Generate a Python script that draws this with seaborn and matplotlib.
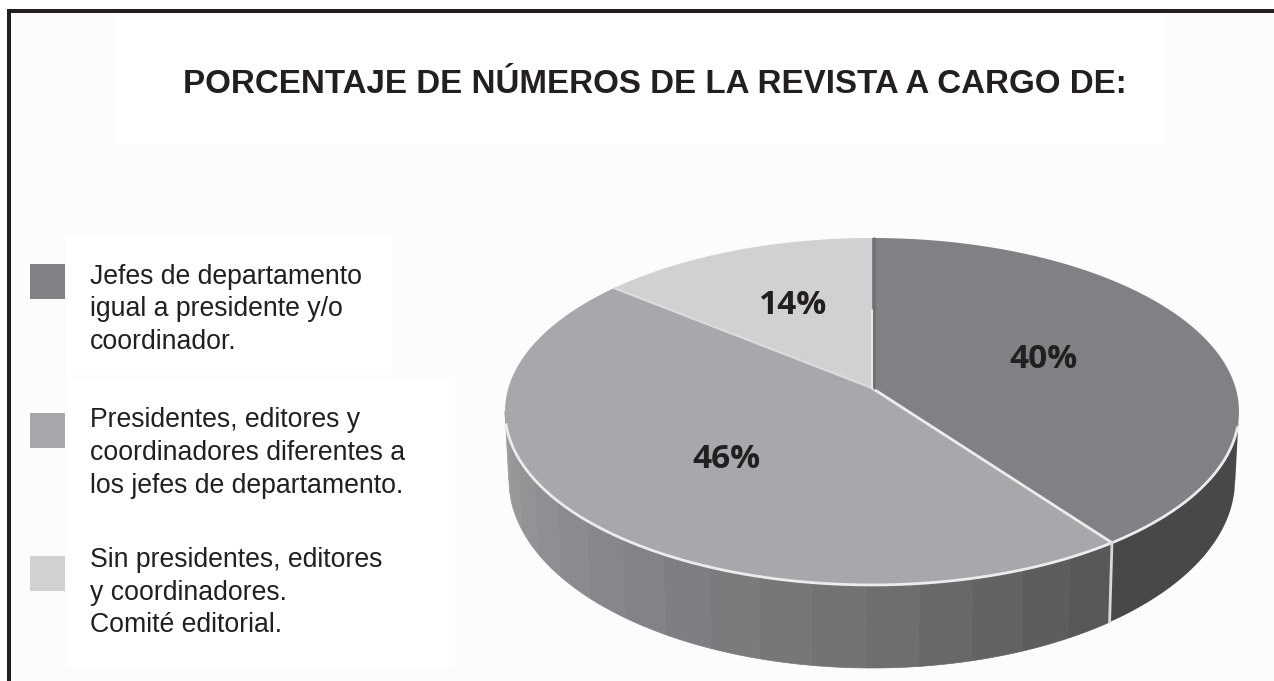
import numpy as np
import seaborn as sns
import matplotlib.pyplot as plt
from matplotlib.patches import Rectangle

# ----- Data -----
title = "PORCENTAJE DE NÚMEROS DE LA REVISTA A CARGO DE:"
shares = [40, 46, 14]
pct_labels = ["40%", "46%", "14%"]
legend_labels = [
    "Jefes de departamento\nigual a presidente y/o\ncoordinador.",
    "Presidentes, editores y\ncoordinadores diferentes a\nlos jefes de departamento.",
    "Sin presidentes, editores\ny coordinadores.\nComité editorial.",
]
top_colors = ["#808184", "#a7a8ab", "#d0d1d3"]

sns.set_theme(style="white")
plt.rcParams['font.family'] = ['Liberation Sans', 'DejaVu Sans']

# ----- Canvas in pixel units, y going down -----
fig, ax = plt.subplots(figsize=(12.74, 6.81), dpi=100)
fig.subplots_adjust(0, 0, 1, 1)
ax.set_xlim(0, 1274)
ax.set_ylim(681, 0)
ax.axis('off')
fig.patch.set_facecolor('#fcfcfc')

# white patches behind the texts
for x, y, w, h in [(115, 15, 1050, 130), (66, 235, 326, 140), (67, 378, 388, 289)]:
    ax.add_patch(Rectangle((x, y), w, h, color='white', lw=0, zorder=0))

# frame: top and left only
ink = '#231f20'
ax.add_patch(Rectangle((0, 0), 1274, 9, color='white', lw=0, zorder=1))
ax.add_patch(Rectangle((0, 0), 7, 681, color='white', lw=0, zorder=1))
ax.add_patch(Rectangle((7, 9), 1267, 4, color=ink, lw=0, zorder=2))
ax.add_patch(Rectangle((7, 9), 4, 672, color=ink, lw=0, zorder=2))

# ----- Pie in perspective (angles clockwise from the top) -----
cx, cy = 872, 388
rx, a, k = 363.6, 170.3, 0.1353


def rim(theta):
    t = np.radians(theta)
    d = 1 + k * np.cos(t)
    return cx + rx * np.sin(t) / d, cy - a * np.cos(t) / d


def base(theta):
    x, _ = rim(theta)
    x = cx + (x - cx) * 0.99
    return x, 480 + 188 * np.sqrt(np.clip(1 - ((x - cx) / 363) ** 2, 0, 1))


edges = np.cumsum([0] + shares) * 3.6

# side wall: dark part of the first slice, then bands along the second one
side_start, side_end = 97.8, 262.2
th = np.linspace(side_start, edges[1], 40)
xr, yr = rim(th)
xb, yb = base(th)
ax.fill(np.r_[xr, xb[::-1]], np.r_[yr, yb[::-1]], color='#47484a', lw=0, zorder=3)

n_bands = 16
band_colors = sns.blend_palette(['#58585a', '#737375', '#86878a', '#9a9b9d'], n_bands)
band_edges = np.linspace(edges[1], side_end, n_bands + 1)
for i in range(n_bands):
    th = np.linspace(band_edges[i], band_edges[i + 1], 12)
    xr, yr = rim(th)
    xb, yb = base(th)
    ax.fill(np.r_[xr, xb[::-1]], np.r_[yr, yb[::-1]], color=band_colors[i], lw=0.5,
            edgecolor=band_colors[i], zorder=3)

# top face
for i in range(len(shares)):
    th = np.linspace(edges[i], edges[i + 1], 200)
    xr, yr = rim(th)
    ax.fill(np.r_[cx, xr], np.r_[cy, yr], color=top_colors[i], lw=0, zorder=4)

# light lines
line = '#ececed'
th = np.linspace(103, 258, 300)
ax.plot(*rim(th), color=line, lw=2.0, zorder=5, solid_capstyle='round')
x1, y1 = rim(edges[1])
ax.plot([cx, x1], [cy, y1], color=line, lw=2.0, zorder=5)
x2, y2 = rim(edges[2])
ax.plot([cx, x2], [cy, y2], color='#dcdcdd', lw=1.6, zorder=5)
ax.plot([cx, cx], [cy, 310], color=line, lw=1.4, zorder=5)
ax.plot([cx + 2, cx + 2], [238, cy], color='#6f7072', lw=1.8, zorder=5)
xb, yb = base(edges[1])
ax.plot([x1, xb], [y1, yb], color='#d9d9da', lw=2.0, zorder=5)

# ----- Texts -----
ax.text(654.5, 84.5, title, ha='center', va='center', fontsize=23.9, fontweight='bold',
        color=ink, zorder=6)

pct_pos = [(1044, 359), (726, 460), (793, 306)]
for s, (x, y) in zip(pct_labels, pct_pos):
    ax.text(x, y, s, ha='center', va='center', fontsize=24, fontweight='bold',
            family='Open Sans', color=ink, zorder=6)

swatch_y = [264, 413, 556]
text_y = [309.5, 453, 592.5]
for lab, col, sy, ty in zip(legend_labels, top_colors, swatch_y, text_y):
    ax.add_patch(Rectangle((30, sy), 35, 35, color=col, lw=0, zorder=3))
    ax.text(89.5, ty, lab, ha='left', va='center', fontsize=19.2, linespacing=1.33,
            color=ink, zorder=6)

fig.savefig('out.png', dpi=100, facecolor=fig.get_facecolor())
